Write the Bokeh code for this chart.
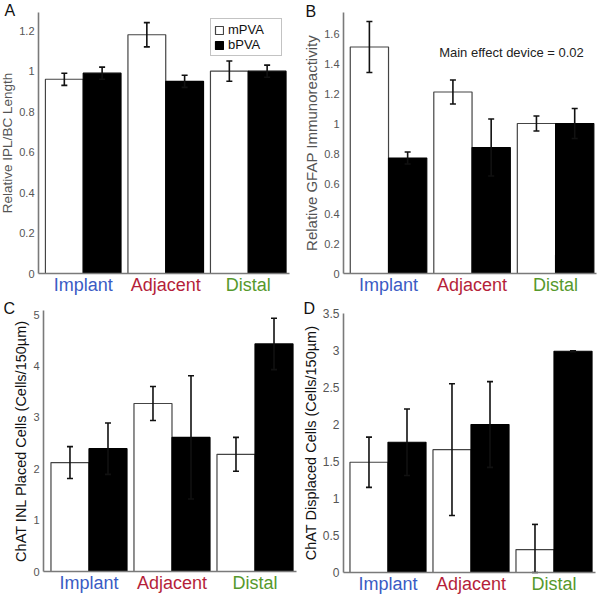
from bokeh.plotting import figure
from bokeh.models import (ColumnDataSource, FixedTicker, Label, Legend, LegendItem, Range1d)
from bokeh.layouts import row, column
from bokeh.transform import dodge
from bokeh.embed import file_html
from bokeh.resources import INLINE

FONT = "Liberation Sans"

categories = ["Implant", "Adjacent", "Distal"]
category_colors = ["#3a5bc4", "#b51f3a", "#56992c"]
series_names = ["mPVA", "bPVA"]

# Panel A
a_mpva = [0.96, 1.18, 1.00]
a_mpva_err = [0.03, 0.06, 0.05]
a_bpva = [0.99, 0.95, 1.00]
a_bpva_err = [0.03, 0.03, 0.03]
a_ticks = [0, 0.2, 0.4, 0.6, 0.8, 1.0, 1.2]
a_tick_labels = ["0", "0.2", "0.4", "0.6", "0.8", "1", "1.2"]

# Panel B
b_mpva = [1.51, 1.21, 1.00]
b_mpva_err = [0.17, 0.08, 0.05]
b_bpva = [0.77, 0.84, 1.00]
b_bpva_err = [0.04, 0.19, 0.10]
b_ticks = [0, 0.2, 0.4, 0.6, 0.8, 1.0, 1.2, 1.4, 1.6]
b_tick_labels = ["0", "0.2", "0.4", "0.6", "0.8", "1", "1.2", "1.4", "1.6"]

# Panel C
c_mpva = [2.12, 3.27, 2.28]
c_mpva_err = [0.31, 0.33, 0.33]
c_bpva = [2.39, 2.61, 4.43]
c_bpva_err = [0.50, 1.20, 0.50]
c_ticks = [0, 1, 2, 3, 4, 5]
c_tick_labels = ["0", "1", "2", "3", "4", "5"]

# Panel D
d_mpva = [1.49, 1.66, 0.31]
d_mpva_err = [0.34, 0.89, 0.34]
d_bpva = [1.76, 2.00, 2.99]
d_bpva_err = [0.45, 0.58, 0.005]
d_ticks = [0, 0.5, 1, 1.5, 2, 2.5, 3, 3.5]
d_tick_labels = ["0", "0.5", "1", "1.5", "2", "2.5", "3", "3.5"]

BAR_W = 0.458


def make_panel(letter, ylabel, ylabel_size, ylabel_color, mp, mpe, bp, bpe,
               ticks, tick_labels, tick_size, y_top, s, e,
               W, H, ax_px, rx_px, zero_py, top_py, letter_px):
    # layout: frame fills the figure, axes are placed at fixed data locations
    kx = (rx_px - ax_px) / (2 + e + s)
    xs = -s - ax_px / kx
    xe = xs + W / kx
    ky = (zero_py - top_py) / y_top
    ys = -(H - zero_py) / ky
    ye = y_top + top_py / ky

    p = figure(width=W, height=H, output_backend="svg", toolbar_location=None,
               x_range=Range1d(xs, xe), y_range=Range1d(ys, ye), min_border=0)
    p.outline_line_color = None
    p.xgrid.visible = False
    p.ygrid.visible = False
    p.background_fill_color = "white"

    src = ColumnDataSource(dict(
        x=list(range(len(categories))),
        m=mp, b=bp,
        m_lo=[max(0, v - d) for v, d in zip(mp, mpe)], m_hi=[v + d for v, d in zip(mp, mpe)],
        b_lo=[max(0, v - d) for v, d in zip(bp, bpe)], b_hi=[v + d for v, d in zip(bp, bpe)],
    ))
    xm = dodge("x", -BAR_W / 2, range=p.x_range)
    xb = dodge("x", BAR_W / 2, range=p.x_range)
    rm = p.vbar(x=xm, top="m", width=BAR_W, source=src, fill_color="white",
                line_color="#444444", line_width=1.2)
    rb = p.vbar(x=xb, top="b", width=BAR_W, source=src, fill_color="black",
                line_color="black", line_width=1.2)
    for xx, lo, hi in ((xm, "m_lo", "m_hi"), (xb, "b_lo", "b_hi")):
        p.segment(x0=xx, y0=lo, x1=xx, y1=hi, source=src, line_color="#111111", line_width=1.6)
        p.scatter(x=xx, y=hi, source=src, marker="dash", size=6, line_color="#111111", line_width=1.6)
        p.scatter(x=xx, y=lo, source=src, marker="dash", size=6, line_color="#111111", line_width=1.6)

    ax = p.yaxis[0]
    ax.fixed_location = -s
    ax.bounds = (0, y_top)
    ax.ticker = FixedTicker(ticks=ticks)
    ax.major_label_overrides = {t: l for t, l in zip(ticks, tick_labels)}
    ax.major_tick_line_color = None
    ax.minor_tick_line_color = None
    ax.major_tick_out = 0
    ax.major_tick_in = 0
    ax.major_label_standoff = 4
    ax.major_label_text_font = FONT
    ax.major_label_text_font_size = tick_size
    ax.major_label_text_color = "#555555"
    ax.axis_line_color = "#7a7a7a"
    ax.axis_line_width = 1.6
    ax.axis_label = ylabel
    ax.axis_label_standoff = 1
    ax.axis_label_text_font = FONT
    ax.axis_label_text_font_size = ylabel_size
    ax.axis_label_text_font_style = "normal"
    ax.axis_label_text_color = ylabel_color

    xa = p.xaxis[0]
    xa.fixed_location = 0
    xa.bounds = (-s, 2 + e)
    xa.ticker = FixedTicker(ticks=[])
    xa.major_label_text_font_size = "0px"
    xa.major_tick_line_color = None
    xa.minor_tick_line_color = None
    xa.axis_line_color = "#7a7a7a"
    xa.axis_line_width = 1.6

    for i, (cat, col) in enumerate(zip(categories, category_colors)):
        p.add_layout(Label(x=i, y=-1 / ky, text=cat, text_align="center",
                           text_baseline="top", text_font=FONT, text_font_size="18px",
                           text_color=col))

    p.add_layout(Label(x=xs + letter_px[0] / kx, y=ye - letter_px[1] / ky,
                       text=letter, text_align="left", text_baseline="top",
                       text_font=FONT, text_font_size="16px", text_color="#111111"))
    return p, rm, rb, (xs, kx, ye, ky)


pA, rmA, rbA, _ = make_panel("A", "Relative IPL/BC Length", "13.5px", "#555555",
                             a_mpva, a_mpva_err, a_bpva, a_bpva_err,
                             a_ticks, a_tick_labels, "11px", 1.29, 0.542, 0.5,
                             300, 295, 38, 289, 273, 12, (4, 1))
pB, _, _, gB = make_panel("B", "Relative GFAP Immunoreactivity", "15px", "#555555",
                          b_mpva, b_mpva_err, b_bpva, b_bpva_err,
                          b_ticks, b_tick_labels, "11px", 1.74, 0.539, 0.49,
                          300, 295, 43, 296, 273, 12, (5, 2))
pC, _, _, _ = make_panel("C", "ChAT INL Placed Cells (Cells/150\u00b5m)", "14.5px", "#111111",
                         c_mpva, c_mpva_err, c_bpva, c_bpva_err,
                         c_ticks, c_tick_labels, "11px", 5.08, 0.548, 0.5,
                         300, 300, 43, 296, 276, 15, (3, 4))
pD, _, _, _ = make_panel("D", "ChAT Displaced Cells (Cells/150\u00b5m)", "14.5px", "#111111",
                         d_mpva, d_mpva_err, d_bpva, d_bpva_err,
                         d_ticks, d_tick_labels, "12px", 3.5, 0.536, 0.5,
                         300, 300, 43, 295, 277, 18, (3, 4))

legend = Legend(items=[LegendItem(label=series_names[0], renderers=[rmA]),
                       LegendItem(label=series_names[1], renderers=[rbA])],
                location="top_right", margin=18, padding=3, glyph_width=10, glyph_height=10,
                label_height=14, label_width=50, label_standoff=4, spacing=0,
                label_text_line_height=1.0,
                border_line_color="#888888", border_line_width=1.5,
                label_text_font=FONT, label_text_font_size="13px", label_text_color="#111111",
                background_fill_color="white", background_fill_alpha=1.0)
pA.add_layout(legend)

xsB, kxB, yeB, kyB = gB
pB.add_layout(Label(x=xsB + 211 / kxB, y=yeB - 52 / kyB, text="Main effect device = 0.02",
                    text_align="center", text_baseline="middle", text_font=FONT,
                    text_font_size="13px", text_color="#222222"))

layout = column(row(pA, pB), row(pC, pD))
open("out.html", "w").write(file_html(layout, INLINE))
